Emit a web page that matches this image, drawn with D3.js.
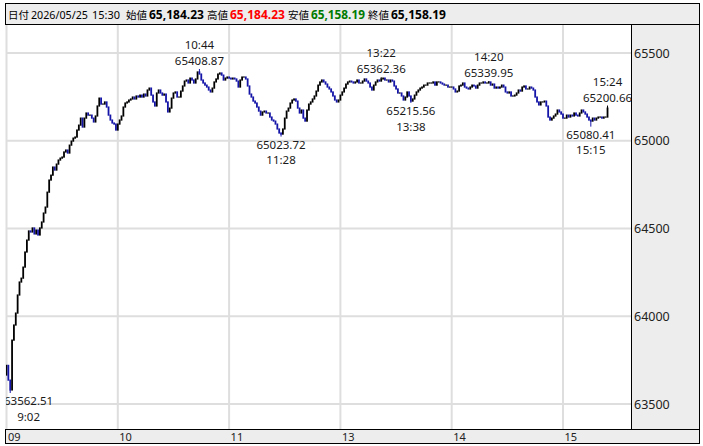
<!DOCTYPE html>
<html><head><meta charset="utf-8">
<script src="https://cdn.jsdelivr.net/npm/d3@7"></script>
<style>
html,body{margin:0;padding:0;background:#fff;}
svg{display:block;}
text{font-family:"Noto Sans","Noto Sans CJK JP",sans-serif;}
</style></head><body>
<svg id="chart" width="703" height="446"></svg>
<script>
// ---------- data ----------
const headerParts = [
  {text:"日付", bold:false, color:"#000", cjk:true},
  {text:"2026/05/25", bold:false, color:"#000"},
  {text:"15:30", bold:false, color:"#000"},
  {text:"始値", bold:false, color:"#000", cjk:true},
  {text:"65,184.23", bold:true, color:"#000"},
  {text:"高値", bold:false, color:"#000", cjk:true},
  {text:"65,184.23", bold:true, color:"#ff0000"},
  {text:"安値", bold:false, color:"#000", cjk:true},
  {text:"65,158.19", bold:true, color:"#007a00"},
  {text:"終値", bold:false, color:"#000", cjk:true},
  {text:"65,158.19", bold:true, color:"#000"}
];
const yTicks = [63500, 64000, 64500, 65000, 65500];
const hourLabels = ["09", "10", "11", "13", "14", "15"];
const hourTimes = ["09:00", "10:00", "11:00", "13:00", "14:00", "15:00"];
const amStart = "09:00";
const pmStart = "12:30";
const firstOpen = 63665;
const amCloses = [
 63720,63636,63580,63864,63950,64018,64121,64195,64217,64280,
 64366,64434,64486,64480,64503,64469,64491,64463,64503,64537,
 64588,64622,64707,64776,64804,64850,64833,64867,64890,64901,
 64907,64936,64947,64930,64975,64998,65015,65021,65061,65089,
 65129,65078,65129,65158,65146,65146,65129,65107,65141,65198,
 65243,65209,65209,65221,65192,65146,65118,65101,65095,65061,
 65095,65118,65141,65192,65215,65221,65232,65238,65249,65238,
 65255,65249,65260,65249,65266,65255,65289,65300,65260,65221,
 65198,65272,65289,65272,65260,65266,65221,65164,65186,65243,
 65272,65278,65249,65249,65283,65312,65340,65346,65329,65357,
 65346,65329,65352,65392,65380,65346,65329,65317,65306,65289,
 65278,65300,65335,65352,65380,65386,65374,65346,65357,65363,
 65357,65352,65357,65352,65340,65306,65346,65363,65363,65352,
 65312,65266,65249,65226,65215,65192,65169,65146,65164,65169,
 65158,65158,65135,65118,65112,65095,65067,65044,65038,65067
];
const pmCloses = [
 65129,65169,65186,65215,65232,65238,65226,65186,65158,65175,
 65129,65112,65175,65209,65221,65238,65255,65283,65317,65335,
 65346,65335,65323,65306,65295,65278,65255,65232,65221,65232,
 65260,65278,65300,65323,65335,65340,65335,65329,65335,65346,
 65329,65329,65340,65352,65340,65329,65306,65289,65317,65335,
 65346,65340,65352,65357,65346,65346,65335,65346,65340,65312,
 65295,65272,65272,65255,65232,65249,65278,65255,65226,65238,
 65260,65278,65289,65300,65306,65317,65317,65329,65329,65329,
 65335,65317,65335,65335,65329,65323,65317,65317,65306,65306,
 65306,65295,65278,65283,65312,65317,65329,65306,65300,65295,
 65306,65317,65312,65300,65317,65329,65329,65335,65329,65329,
 65335,65317,65323,65300,65306,65300,65306,65317,65306,65278,
 65272,65278,65255,65255,65260,65272,65289,65283,65306,65312,
 65295,65295,65306,65300,65289,65249,65221,65204,65221,65221,
 65226,65198,65135,65118,65129,65141,65152,65175,65164,65152,
 65129,65129,65146,65135,65146,65141,65158,65146,65141,65158,
 65175,65164,65152,65135,65118,65112,65129,65118,65129,65135,
 65135,65129,65135,65135,65186
];
const extremes = [
  {time:"09:02", price:63562.51, side:"below"},
  {time:"10:44", price:65408.87, side:"above"},
  {time:"11:28", price:65023.72, side:"below"},
  {time:"13:22", price:65362.36, side:"above"},
  {time:"13:38", price:65215.56, side:"below"},
  {time:"14:20", price:65339.95, side:"above"},
  {time:"15:15", price:65080.41, side:"below"},
  {time:"15:24", price:65200.66, side:"above"}
];

// ---------- helpers ----------
function toMin(t){ const [h,m] = t.split(":").map(Number); return h*60+m; }
const amLen = toMin("11:30") - toMin(amStart);
function tIdx(t){
  const mm = toMin(t);
  return mm < toMin(pmStart) ? mm - toMin(amStart) : amLen + (mm - toMin(pmStart));
}
function fmtTime(mm){ const h = Math.floor(mm/60), m = mm%60; return h + ":" + String(m).padStart(2,"0"); }

const candles = [];
let prev = firstOpen;
amCloses.concat(pmCloses).forEach((c, i) => {
  candles.push({i, open: prev, close: c});
  prev = c;
});

// ---------- layout ----------
const L = 5, R = 631, T = 24, B = 429, PR = 699;
const svg = d3.select("#chart");
const x = d3.scaleLinear().domain([0, 330]).range([6.5, 6.5 + 330*1.855]);
const y = d3.scaleLinear().domain([63500, 65500]).range([404, 53]);

// panels
svg.append("rect").attr("x", L+0.5).attr("y", 3.5).attr("width", PR-L).attr("height", T-3)
  .attr("fill", "#ededed").attr("stroke", "#000");
svg.append("rect").attr("x", R+0.5).attr("y", T+0.5).attr("width", PR-R).attr("height", B-T)
  .attr("fill", "#ededed").attr("stroke", "#000");
svg.append("rect").attr("x", L+0.5).attr("y", B+0.5).attr("width", PR-L).attr("height", 14)
  .attr("fill", "#ededed").attr("stroke", "#000");

// header text: each part sized to fit its slot of the header strip
const slots = [[8,29],[31,88],[92,120],[126,147],[149,204],[207,228],[230,285],[288,309],[311,365],[368,389],[391,446]];
const hdr = svg.append("g");
headerParts.forEach((p, i) => {
  const [a, b] = slots[i];
  const base = p.cjk ? 11.5 : 13.5;
  const t = hdr.append("text").attr("x", a).attr("y", 19)
    .attr("font-size", base)
    .attr("font-weight", p.bold ? "bold" : "normal")
    .attr("fill", p.color).text(p.text);
  const w = t.node().getComputedTextLength();
  if (w > b - a) t.attr("font-size", base * (b - a) / w);
});

// grid
const grid = svg.append("g");
grid.selectAll("line.h").data(yTicks).join("line").attr("class","h")
  .attr("x1", L+1).attr("x2", R).attr("y1", d => y(d)).attr("y2", d => y(d))
  .attr("stroke", "#dedede").attr("stroke-width", 2);
grid.selectAll("line.v").data(hourTimes).join("line").attr("class","v")
  .attr("x1", d => x(tIdx(d))).attr("x2", d => x(tIdx(d))).attr("y1", T+1).attr("y2", B)
  .attr("stroke", "#dedede").attr("stroke-width", 2);

// axes labels
svg.append("g").selectAll("text").data(yTicks).join("text")
  .attr("x", R + 3).attr("y", d => y(d) + 4.5).attr("font-size", 12.5).attr("fill", "#222")
  .text(d => d);
svg.append("g").selectAll("text").data(hourLabels).join("text")
  .attr("x", (d, i) => x(tIdx(hourTimes[i])) + 1.5).attr("y", B + 11.5)
  .attr("font-size", 11).attr("fill", "#222").text(d => d);

// clip
svg.append("clipPath").attr("id", "clip").append("rect")
  .attr("x", L+1).attr("y", T+1).attr("width", R-L-1).attr("height", B-T-1);
const plot = svg.append("g").attr("clip-path", "url(#clip)");

const up = "#000000", down = "#1414a8";
// wicks at extremes
plot.selectAll("line.wick").data(extremes).join("line").attr("class","wick")
  .attr("x1", d => x(tIdx(d.time))).attr("x2", d => x(tIdx(d.time)))
  .attr("y1", d => { const c = candles[tIdx(d.time)]; return y(d.side==="above" ? Math.max(c.open,c.close) : Math.min(c.open,c.close)); })
  .attr("y2", d => y(d.price))
  .attr("stroke", d => { const c = candles[tIdx(d.time)]; return c.close >= c.open ? up : down; })
  .attr("stroke-width", 1);

plot.selectAll("rect.c").data(candles).join("rect").attr("class","c")
  .attr("x", d => x(d.i) - 0.9).attr("width", 1.8)
  .attr("y", d => Math.min(y(d.open), y(d.close)) - 0.6)
  .attr("height", d => Math.abs(y(d.open) - y(d.close)) + 1.2)
  .attr("fill", d => d.close >= d.open ? up : down);

// annotations
const fsA = 11.5, gapA = 15.7;
const ann = plot.selectAll("g.ann").data(extremes).join("g").attr("class","ann");
ann.each(function(d){
  const g = d3.select(this);
  const px = x(tIdx(d.time)), py = y(d.price);
  const priceStr = d.price.toFixed(2), timeStr = fmtTime(toMin(d.time));
  const t1 = g.append("text").attr("font-size", fsA).attr("fill", "#1a1a1a").attr("text-anchor", "middle").text(priceStr);
  const t2 = g.append("text").attr("font-size", fsA).attr("fill", "#1a1a1a").attr("text-anchor", "middle").text(timeStr);
  const w = t1.node().getComputedTextLength();
  const cx = Math.max(px, L - 1 + w/2);
  if (d.side === "above") {
    t1.attr("x", cx).attr("y", py - 4);
    t2.attr("x", cx).attr("y", py - 4 - gapA);
  } else {
    t1.attr("x", cx).attr("y", py + 12);
    t2.attr("x", cx).attr("y", py + 12 + gapA);
  }
});
</script>
</body></html>
